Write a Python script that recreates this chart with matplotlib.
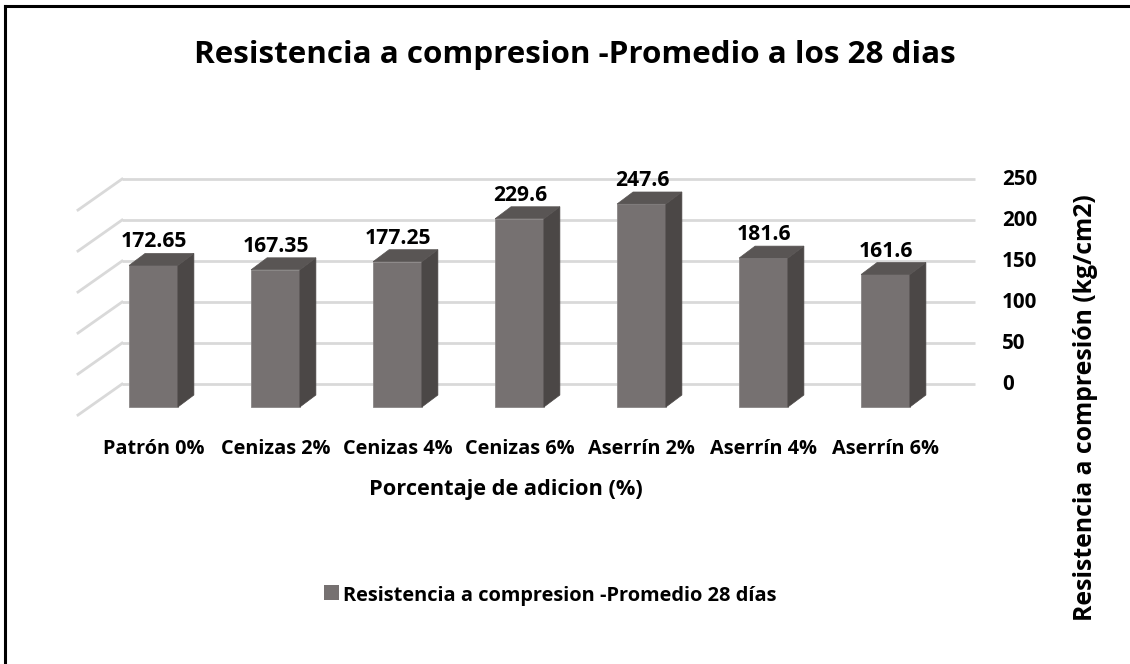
import matplotlib
matplotlib.use("Agg")
import matplotlib.pyplot as plt
from matplotlib.patches import Polygon, Rectangle
from matplotlib.lines import Line2D

categories = ["Patrón 0%", "Cenizas 2%", "Cenizas 4%", "Cenizas 6%",
              "Aserrín 2%", "Aserrín 4%", "Aserrín 6%"]
values = [172.65, 167.35, 177.25, 229.6, 247.6, 181.6, 161.6]
yticks = [0, 50, 100, 150, 200, 250]
value_labels = ["172.65", "167.35", "177.25", "229.6", "247.6", "181.6", "161.6"]

title = "Resistencia a compresion -Promedio a los 28 dias"
xlabel = "Porcentaje de adicion (%)"
ylabel = "Resistencia a compresión (kg/cm2)"
series_name = "Resistencia a compresion -Promedio 28 días"

plt.rcParams['font.family'] = ['Open Sans', 'DejaVu Sans']
plt.rcParams['font.weight'] = 'bold'

W, H = 1130, 664
fig = plt.figure(figsize=(W / 100, H / 100), dpi=100)
renderer = fig.canvas.get_renderer()


def text_width(s, size):
    t = fig.text(0, 0, s, fontsize=size, fontweight='bold')
    w = t.get_window_extent(renderer).width
    t.remove()
    return w


def size_for(s, target_px, base=12.0):
    return base * target_px / text_width(s, base)


title_fs = size_for(title, 761)
cat_fs = size_for(categories[0], 101)
val_fs = size_for(value_labels[0], 66)
tick_fs = size_for("250", 35)
ylab_fs = size_for(ylabel, 425)
xlab_fs = size_for("Porcentaje de adicion", 234)
leg_fs = size_for(series_name, 435)

px0, pxs = 153.5, 122.0
py0, pys = 257.0, 0.82
xlim = (-1.0, 7.5)
ylim = (-20, 300)
left = (px0 + pxs * xlim[0]) / W
right = (px0 + pxs * xlim[1]) / W
bottom = (py0 + pys * ylim[0]) / H
top = (py0 + pys * ylim[1]) / H
ax = fig.add_axes([left, bottom, right - left, top - bottom])
ax.set_xlim(*xlim)
ax.set_ylim(*ylim)
ax.axis('off')

wall_dy = 28.0
wall_x0, wall_x1 = -0.258, 6.734
side_dx, side_dy = -0.361, -37.8
bar_w = 0.40
depth_dx, depth_dy = 0.131, 14.6

grid_c = "#d9d9d9"
tick_x = (1002 - px0) / pxs
for v in yticks:
    yw = v + wall_dy
    ax.plot([wall_x0, wall_x1], [yw, yw], color=grid_c, lw=2.0, zorder=1,
            solid_capstyle='butt', clip_on=False)
    ax.plot([wall_x0, wall_x0 + side_dx], [yw, yw + side_dy], color=grid_c,
            lw=2.0, zorder=1, clip_on=False)
    ax.text(tick_x, yw, str(v), ha='left', va='center', fontsize=tick_fs,
            fontweight='bold', color='black', clip_on=False)

front_c = "#767171"
side_c = "#4b4746"
top_c = "#595554"
cat_y = ((H - 447) - py0) / pys
for i, v in enumerate(values):
    x0 = i - bar_w / 2
    x1 = i + bar_w / 2
    ax.add_patch(Rectangle((x0, 0), bar_w, v, facecolor=front_c,
                           edgecolor="#8a8686", lw=0.6, zorder=3))
    ax.add_patch(Polygon([(x1, 0), (x1 + depth_dx, depth_dy),
                          (x1 + depth_dx, v + depth_dy), (x1, v)],
                         closed=True, facecolor=side_c, edgecolor=side_c,
                         lw=0.5, zorder=3))
    ax.add_patch(Polygon([(x0, v), (x1, v), (x1 + depth_dx, v + depth_dy),
                          (x0 + depth_dx, v + depth_dy)],
                         closed=True, facecolor=top_c, edgecolor=top_c,
                         lw=0.5, zorder=3))
    ax.text(i + 0.003, v + depth_dy + 7.3, value_labels[i], ha='center',
            va='baseline', fontsize=val_fs, fontweight='bold', color='black',
            zorder=4)
    ax.text(i, cat_y, categories[i], ha='center', va='center_baseline',
            fontsize=cat_fs, fontweight='bold', color='black', clip_on=False)

fig.text(369 / W, 1 - 487 / H, xlabel, ha='left', va='center_baseline',
         fontsize=xlab_fs, fontweight='bold', color='black')
fig.text(1086 / W, 1 - 408 / H, ylabel, ha='center', va='center',
         rotation=90, fontsize=ylab_fs, fontweight='bold', color='black')
fig.text(575 / W, 1 - 51 / H, title, ha='center', va='center_baseline',
         fontsize=title_fs, fontweight='bold', color='black')

# legend
fig.add_artist(Rectangle((324 / W, 1 - 600 / H), 15 / W, 15 / H,
                         facecolor=front_c, edgecolor='none',
                         transform=fig.transFigure))
fig.text(343 / W, 1 - 593 / H, series_name, ha='left',
         va='center_baseline', fontsize=leg_fs, fontweight='bold',
         color='black')

fig.add_artist(Line2D([5 / W, 5 / W], [0, 1 - 6 / H], color='black', lw=2.2,
                      transform=fig.transFigure))
fig.add_artist(Line2D([5 / W, 1], [1 - 6 / H, 1 - 6 / H], color='black',
                      lw=2.2, transform=fig.transFigure))

fig.savefig("out.png", dpi=100, facecolor='white')
